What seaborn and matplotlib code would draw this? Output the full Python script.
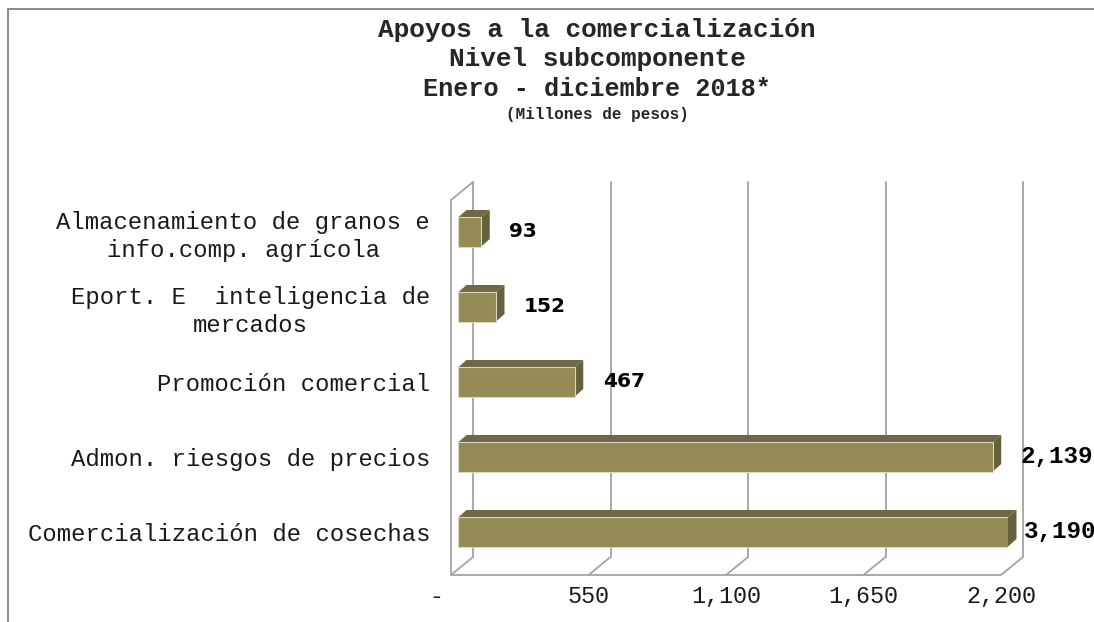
import numpy as np
import pandas as pd
import seaborn as sns
import matplotlib
matplotlib.use("Agg")
import matplotlib.pyplot as plt
from matplotlib.patches import Polygon, Rectangle
from matplotlib.lines import Line2D

# ---------------- data ----------------
categories = [
    "Almacenamiento de granos e\ninfo.comp. agrícola",
    "Eport. E  inteligencia de\nmercados",
    "Promoción comercial",
    "Admon. riesgos de precios",
    "Comercialización de cosechas",
]
values = [93, 152, 467, 2139, 3190]
value_labels = ["93", "152", "467", "2,139", "3,190"]
x_ticks = [0, 550, 1100, 1650, 2200]
x_tick_labels = ["-  ", "550", "1,100", "1,650", "2,200"]
title_lines = ["Apoyos a la comercialización", "Nivel subcomponente",
               "Enero - diciembre 2018*", "(Millones de pesos)"]

# ---------------- style ----------------
sns.set_theme(style="white")
plt.rcParams["font.family"] = ["Liberation Mono", "DejaVu Sans"]

FRONT = "#948A54"
TOP = "#6F6843"
SIDE = "#67603C"
GRID = "#A3A3A3"
W, H = 1094, 622

fig = plt.figure(figsize=(W / 100, H / 100), dpi=100)
fig.patch.set_facecolor("white")

# axes placement in pixels
ax_l, ax_r, ax_t, ax_b = 440, 1040, 170, 575
ax = fig.add_axes([ax_l / W, 1 - ax_b / H, (ax_r - ax_l) / W, (ax_b - ax_t) / H])

# pixel<->data scale (x: 0 at 458px, 0.25 px per unit ; y: index 0 at 232px, 75 px per unit)
x0px, xs = 458, 0.25
y0px, ys = 232, 75.0
def ux(px):
    return (px - x0px) / xs
def uy(py):
    return (py - y0px) / ys

xmax = x_ticks[-1]
df = pd.DataFrame({"cat": categories, "val": values})
sns.barplot(data=df, x="val", y="cat", orient="h", width=0.387, color=FRONT,
            saturation=1, ax=ax, edgecolor="#DAD6C4", linewidth=0.8, zorder=5)

ax.set_xlim(ux(ax_l), ux(ax_r))
ax.set_ylim(uy(ax_b), uy(ax_t))

# 3D box geometry (data units)
front_dx = ux(451)          # floor front offset
back_dx = ux(473)           # back wall offset
y_fb = uy(575)              # front bottom
y_bb = uy(557)              # back bottom
y_bt = uy(182)              # back top
y_ft = uy(200)              # front top
lw = 1.3
# back wall gridlines + floor diagonals
for t in x_ticks:
    ax.add_line(Line2D([t + back_dx, t + back_dx], [y_bb, y_bt], color=GRID, lw=lw, zorder=1))
    ax.add_line(Line2D([t + back_dx, t + front_dx], [y_bb, y_fb], color=GRID, lw=lw, zorder=1))
# floor front line
ax.add_line(Line2D([front_dx, xmax + front_dx], [y_fb, y_fb], color=GRID, lw=lw, zorder=1, clip_on=False))
# left side wall
ax.add_line(Line2D([front_dx, front_dx], [y_fb, y_ft], color=GRID, lw=lw, zorder=1))
ax.add_line(Line2D([front_dx, back_dx], [y_ft, y_bt], color=GRID, lw=lw, zorder=1))

# clip bars at axis max
clip = Rectangle((-1000, -10), 1000 + xmax, 30, transform=ax.transData)
for p in ax.patches:
    p.set_clip_path(clip)

# 3D faces of bars
bw = 0.387
ddx, ddy = 8.5 / xs, -7.5 / ys
for i, v in enumerate(values):
    e = min(v, xmax)
    yt, yb = i - bw / 2, i + bw / 2
    ax.add_patch(Polygon([(0, yt), (e, yt), (e + ddx, yt + ddy), (ddx, yt + ddy)],
                         closed=True, facecolor=TOP, edgecolor="none", zorder=4))
    ax.add_patch(Polygon([(e, yt), (e + ddx, yt + ddy), (e + ddx, yb + ddy), (e, yb)],
                         closed=True, facecolor=SIDE, edgecolor="none", zorder=4))

# value labels
label_fonts = ["DejaVu Sans", "DejaVu Sans", "DejaVu Sans", "Liberation Mono", "Liberation Mono"]
label_sizes = [14.5, 14.5, 14.5, 17.5, 17.5]
for i, (v, s) in enumerate(zip(values, value_labels)):
    xx = min(v + 28 / xs, xmax + 16 / xs)
    ax.text(xx, i, s, ha="left", va="center", fontsize=label_sizes[i],
            fontweight="bold", family=label_fonts[i], color="black",
            clip_on=False, zorder=6)

# ticks
ax.set_xticks([t + front_dx for t in x_ticks])
ax.set_xticklabels(x_tick_labels)
ax.set_yticks(range(len(categories)))
ax.set_yticklabels(categories, multialignment="center", linespacing=1.25)
ax.tick_params(axis="x", length=0, pad=7, labelsize=16.8, labelcolor="#1a1a1a")
ax.tick_params(axis="y", length=0, pad=7.2, labelsize=17.2, labelcolor="#1a1a1a")
for lab in ax.get_yticklabels():
    lab.set_family(["Liberation Mono"])
for lab in ax.get_xticklabels():
    lab.set_family(["Liberation Mono"])
ax.set_xlabel("")
ax.set_ylabel("")
for sp in ax.spines.values():
    sp.set_visible(False)
ax.set_facecolor("none")
ax.grid(False)

# title
cx = 597 / W
fig.text(cx, 1 - 37 / H, title_lines[0], ha="center", va="baseline", fontsize=18.8, fontweight="bold")
fig.text(cx, 1 - 66 / H, title_lines[1], ha="center", va="baseline", fontsize=18.8, fontweight="bold")
fig.text(cx, 1 - 96 / H, title_lines[2], ha="center", va="baseline", fontsize=18.2, fontweight="bold")
fig.text(cx, 1 - 119 / H, title_lines[3], ha="center", va="baseline", fontsize=11.5, fontweight="bold")

# chart border (left and top visible)
fig.add_artist(Line2D([8 / W, 8 / W], [1 - 9 / H, 0], color="#8A8A8A", lw=1.4, transform=fig.transFigure))
fig.add_artist(Line2D([8 / W, 1], [1 - 9 / H, 1 - 9 / H], color="#8A8A8A", lw=1.4, transform=fig.transFigure))

fig.savefig("out.png", dpi=100, facecolor="white")
